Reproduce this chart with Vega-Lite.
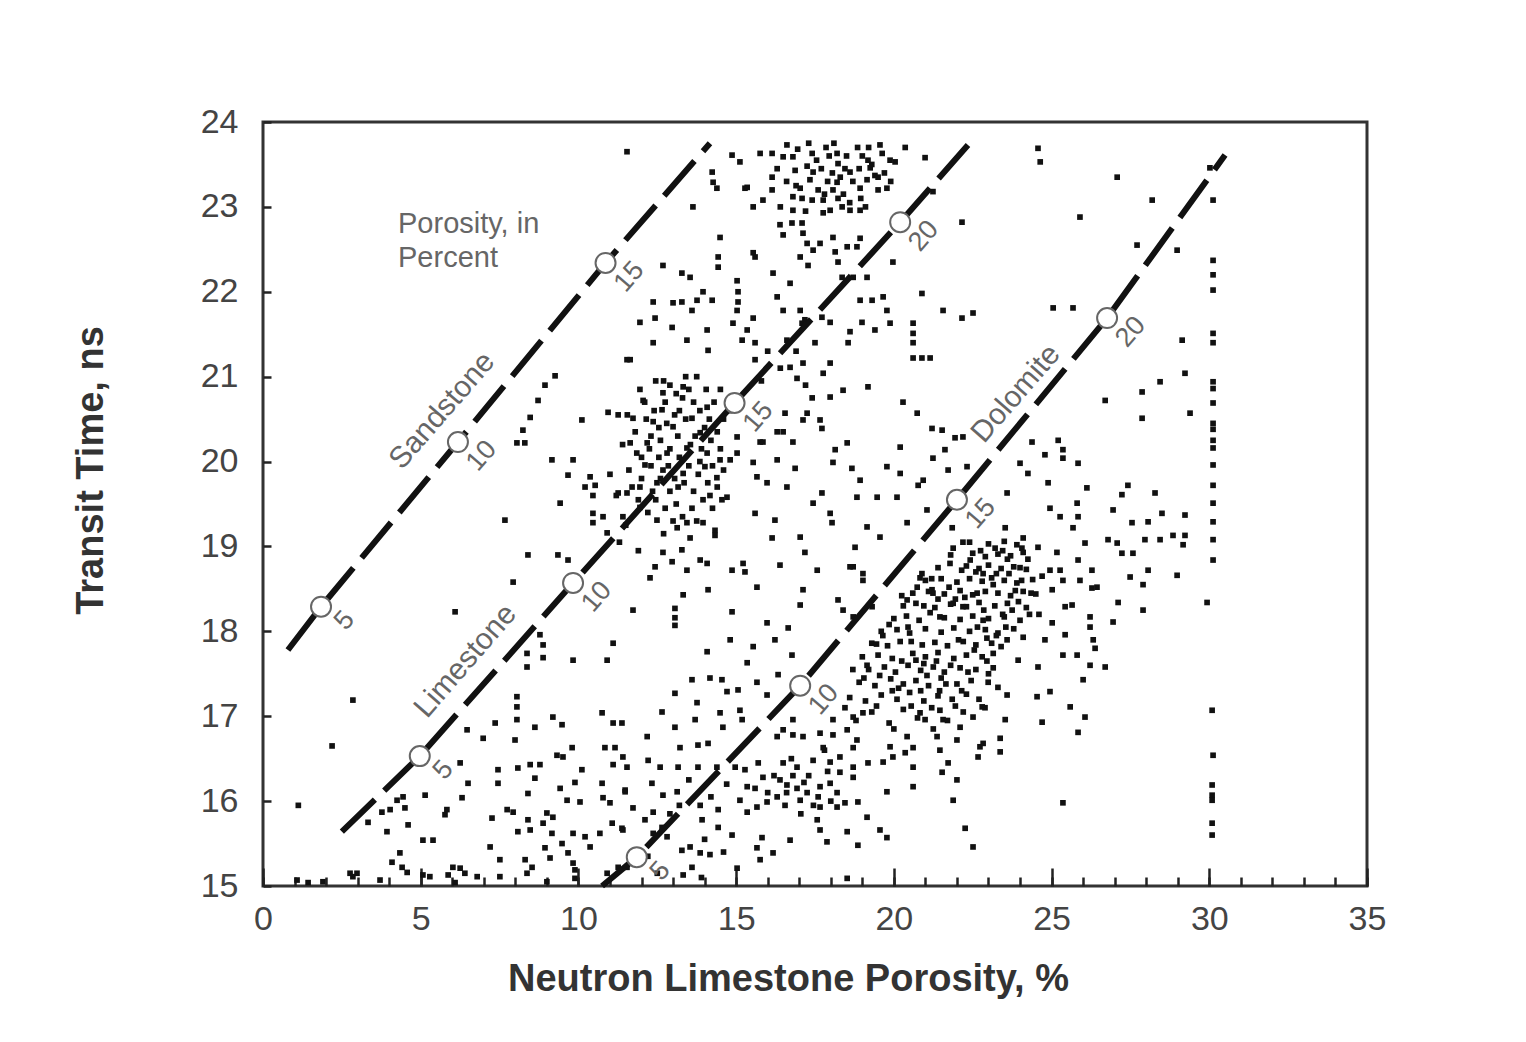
{
  "$schema": "https://vega.github.io/schema/vega-lite/v6.json",
  "width": 1104,
  "height": 764,
  "autosize": {"type": "none"},
  "padding": {"left": 263, "top": 122, "right": 159, "bottom": 156},
  "background": "white",
  "config": {
    "view": {"stroke": "#333", "strokeWidth": 3},
    "font": "Liberation Sans",
    "axis": {"labelFont": "Liberation Sans", "titleFont": "Liberation Sans"}
  },
  "datasets": {
    "samples": [
      {"x":11.54,"y":23.65},{"x":14.24,"y":23.41},{"x":14.27,"y":23.29},{"x":14.39,"y":23.22},{"x":13.63,"y":23.0},{"x":14.87,"y":23.61},{"x":15.12,"y":23.53},{"x":15.28,"y":23.22},{"x":15.76,"y":23.63},{"x":16.14,"y":23.63},{"x":16.14,"y":23.35},{"x":16.14,"y":23.2},{"x":16.49,"y":23.59},{"x":16.61,"y":23.73},{"x":16.8,"y":23.59},{"x":16.87,"y":23.43},{"x":17.41,"y":23.63},{"x":17.44,"y":23.41},{"x":17.34,"y":23.32},{"x":18.2,"y":23.63},{"x":18.23,"y":23.51},{"x":18.61,"y":23.41},{"x":19.18,"y":23.55},{"x":19.56,"y":23.73},{"x":19.63,"y":23.63},{"x":19.88,"y":23.55},{"x":20.04,"y":23.53},{"x":20.36,"y":23.7},{"x":20.99,"y":23.58},{"x":19.25,"y":23.46},{"x":19.15,"y":23.32},{"x":19.5,"y":23.35},{"x":19.5,"y":23.2},{"x":19.78,"y":23.22},{"x":18.93,"y":23.22},{"x":17.03,"y":23.22},{"x":16.8,"y":23.12},{"x":17.09,"y":23.1},{"x":17.41,"y":23.08},{"x":17.76,"y":23.08},{"x":18.07,"y":23.2},{"x":18.2,"y":23.29},{"x":18.23,"y":23.1},{"x":18.36,"y":23.0},{"x":18.61,"y":22.96},{"x":18.93,"y":22.96},{"x":17.98,"y":22.96},{"x":17.76,"y":22.93},{"x":16.8,"y":22.96},{"x":15.54,"y":23.0},{"x":15.85,"y":23.08},{"x":15.35,"y":23.23},{"x":21.24,"y":23.18},{"x":22.16,"y":22.82},{"x":19.97,"y":22.35},{"x":20.89,"y":21.98},{"x":21.56,"y":21.78},{"x":22.16,"y":21.69},{"x":22.51,"y":21.75},{"x":14.49,"y":22.64},{"x":14.43,"y":22.41},{"x":14.43,"y":22.29},{"x":15.54,"y":22.46},{"x":12.68,"y":22.31},{"x":13.28,"y":22.22},{"x":13.54,"y":22.17},{"x":13.95,"y":22.0},{"x":12.37,"y":21.88},{"x":13.0,"y":21.87},{"x":13.28,"y":21.88},{"x":13.76,"y":21.9},{"x":13.6,"y":21.78},{"x":14.24,"y":21.9},{"x":11.95,"y":21.64},{"x":12.43,"y":21.69},{"x":12.97,"y":21.58},{"x":13.44,"y":21.43},{"x":12.37,"y":21.4},{"x":14.08,"y":21.55},{"x":14.11,"y":21.31},{"x":15.03,"y":22.13},{"x":15.06,"y":22.0},{"x":15.06,"y":21.88},{"x":15.03,"y":21.78},{"x":14.9,"y":21.63},{"x":15.54,"y":21.69},{"x":15.35,"y":21.55},{"x":15.19,"y":21.43},{"x":15.6,"y":21.4},{"x":16.17,"y":22.22},{"x":16.3,"y":21.94},{"x":16.71,"y":22.1},{"x":16.49,"y":21.78},{"x":17.03,"y":21.78},{"x":17.09,"y":21.63},{"x":16.61,"y":21.43},{"x":15.6,"y":22.41},{"x":16.39,"y":22.79},{"x":16.77,"y":22.81},{"x":17.09,"y":22.81},{"x":16.49,"y":22.67},{"x":17.12,"y":22.69},{"x":17.25,"y":22.57},{"x":17.66,"y":22.57},{"x":18.07,"y":22.64},{"x":17.44,"y":22.49},{"x":17.03,"y":22.41},{"x":17.28,"y":22.31},{"x":18.14,"y":22.47},{"x":18.23,"y":22.35},{"x":18.52,"y":22.53},{"x":18.83,"y":22.53},{"x":18.93,"y":22.63},{"x":18.36,"y":22.17},{"x":18.71,"y":22.17},{"x":19.15,"y":22.17},{"x":18.93,"y":21.9},{"x":19.31,"y":21.9},{"x":19.66,"y":21.94},{"x":19.78,"y":21.78},{"x":18.99,"y":21.64},{"x":19.4,"y":21.55},{"x":18.61,"y":21.53},{"x":18.55,"y":21.4},{"x":17.98,"y":21.64},{"x":20.61,"y":21.63},{"x":20.61,"y":21.51},{"x":20.61,"y":21.4},{"x":20.61,"y":21.22},{"x":20.89,"y":21.22},{"x":21.15,"y":21.22},{"x":19.88,"y":21.63},{"x":17.18,"y":21.67},{"x":17.72,"y":21.7},{"x":11.54,"y":21.2},
      {"x":18.9,"y":23.45},{"x":19.0,"y":23.6},{"x":19.3,"y":23.5},{"x":19.4,"y":23.37},{"x":18.7,"y":23.3},{"x":17.7,"y":23.45},{"x":17.9,"y":23.3},{"x":16.9,"y":23.25},{"x":17.6,"y":23.2},{"x":18.4,"y":23.15},{"x":18.6,"y":23.05},{"x":19.1,"y":23.0},{"x":19.7,"y":23.4},{"x":16.4,"y":23.0},{"x":17.2,"y":22.95},
      {"x":17.55,"y":23.55},{"x":17.95,"y":23.6},{"x":18.45,"y":23.45},{"x":18.05,"y":23.4},{"x":17.25,"y":23.48},{"x":16.6,"y":23.3},{"x":18.85,"y":23.7},{"x":19.9,"y":23.3},{"x":18.3,"y":23.35},{"x":17.8,"y":23.15},{"x":18.95,"y":23.1},{"x":16.3,"y":23.45},
      {"x":18.1,"y":23.75},{"x":18.5,"y":23.6},{"x":17.85,"y":23.7},{"x":19.2,"y":23.7},{"x":17.3,"y":23.75},{"x":16.95,"y":23.68},
      {"x":24.57,"y":23.69},{"x":24.64,"y":23.53},{"x":27.08,"y":23.35},{"x":28.19,"y":23.08},{"x":25.9,"y":22.88},{"x":27.71,"y":22.55},{"x":28.98,"y":22.49},{"x":30.12,"y":23.08},{"x":30.02,"y":23.46},{"x":30.12,"y":22.37},{"x":30.12,"y":22.2},{"x":30.12,"y":22.02},{"x":25.05,"y":21.81},{"x":25.68,"y":21.81},{"x":29.14,"y":21.43},{"x":30.12,"y":21.51},{"x":30.12,"y":21.4},
      {"x":9.26,"y":21.01},{"x":8.94,"y":20.9},{"x":8.72,"y":20.72},{"x":8.47,"y":20.52},{"x":8.24,"y":20.37},{"x":8.05,"y":20.22},{"x":8.3,"y":20.22},{"x":10.11,"y":20.49},{"x":10.94,"y":20.58},{"x":11.26,"y":20.55},{"x":9.16,"y":20.02},{"x":9.83,"y":20.02},{"x":9.67,"y":19.84},{"x":10.37,"y":19.82},{"x":10.21,"y":19.7},{"x":10.53,"y":19.72},{"x":9.42,"y":19.51},{"x":10.46,"y":19.39},{"x":10.78,"y":19.35},{"x":10.46,"y":19.28},{"x":10.91,"y":19.16},{"x":11.26,"y":19.63},{"x":11.41,"y":19.35},{"x":7.67,"y":19.31},{"x":8.4,"y":18.9},{"x":9.35,"y":18.9},{"x":9.67,"y":18.84},{"x":7.93,"y":18.58},{"x":6.09,"y":18.23},{"x":10.46,"y":19.6},{"x":11.64,"y":21.2},
      {"x":1.12,"y":15.95},{"x":2.85,"y":17.19},{"x":2.19,"y":16.65},
      {"x":11.1,"y":17.86},{"x":10.91,"y":17.66},{"x":9.83,"y":17.66},{"x":8.88,"y":17.84},{"x":8.88,"y":17.69},{"x":8.37,"y":17.74},{"x":8.37,"y":17.58},{"x":8.78,"y":17.96},{"x":8.05,"y":17.23},{"x":8.05,"y":17.11},{"x":8.05,"y":16.96},{"x":7.36,"y":16.92},{"x":8.62,"y":16.87},{"x":9.19,"y":16.99},{"x":9.48,"y":16.9},{"x":10.75,"y":17.04},{"x":11.1,"y":16.92},{"x":11.38,"y":16.92},{"x":6.47,"y":16.84},{"x":6.98,"y":16.74},{"x":7.99,"y":16.72},{"x":9.32,"y":16.54},{"x":9.51,"y":16.52},{"x":9.8,"y":16.63},{"x":10.84,"y":16.63},{"x":11.16,"y":16.63},{"x":11.1,"y":16.43},{"x":6.25,"y":16.45},{"x":6.5,"y":16.21},{"x":7.45,"y":16.37},{"x":7.45,"y":16.21},{"x":8.08,"y":16.39},{"x":8.47,"y":16.43},{"x":8.78,"y":16.43},{"x":8.62,"y":16.27},{"x":10.11,"y":16.37},{"x":9.89,"y":16.22},{"x":9.42,"y":16.15},{"x":10.75,"y":16.21},{"x":11.48,"y":16.13},{"x":8.4,"y":16.09},{"x":9.64,"y":16.01},{"x":10.05,"y":15.99},{"x":10.78,"y":16.04},{"x":11.0,"y":15.98},{"x":5.14,"y":16.07},{"x":6.31,"y":16.04},{"x":5.83,"y":15.9},{"x":5.77,"y":15.84},{"x":4.44,"y":16.05},{"x":4.5,"y":15.92},{"x":4.25,"y":16.01},{"x":4.03,"y":15.9},{"x":3.77,"y":15.87},{"x":3.33,"y":15.75},{"x":3.93,"y":15.64},{"x":4.6,"y":15.72},{"x":5.07,"y":15.54},{"x":5.39,"y":15.54},{"x":7.74,"y":15.9},{"x":7.93,"y":15.87},{"x":7.26,"y":15.8},{"x":7.2,"y":15.46},{"x":8.08,"y":15.64},{"x":8.47,"y":15.66},{"x":8.4,"y":15.78},{"x":8.88,"y":15.74},{"x":9.0,"y":15.86},{"x":9.19,"y":15.81},{"x":9.16,"y":15.62},{"x":9.83,"y":15.62},{"x":10.21,"y":15.58},{"x":10.37,"y":15.46},{"x":10.68,"y":15.62},{"x":11.07,"y":15.74},{"x":11.38,"y":15.68},{"x":8.94,"y":15.45},{"x":9.48,"y":15.5},{"x":9.67,"y":15.39},{"x":9.1,"y":15.33},{"x":9.83,"y":15.27},{"x":4.34,"y":15.39},{"x":4.41,"y":15.22},{"x":4.09,"y":15.28},{"x":4.57,"y":15.16},{"x":7.51,"y":15.31},{"x":8.31,"y":15.31},{"x":8.53,"y":15.22},{"x":8.37,"y":15.15},{"x":6.02,"y":15.22},{"x":6.25,"y":15.21},{"x":5.87,"y":15.13},{"x":6.4,"y":15.15},{"x":5.07,"y":15.13},{"x":5.29,"y":15.11},{"x":2.76,"y":15.15},{"x":2.98,"y":15.15},{"x":2.85,"y":15.11},{"x":6.79,"y":15.11},{"x":7.51,"y":15.11},{"x":9.89,"y":15.19},{"x":9.89,"y":15.09},{"x":10.91,"y":15.15},{"x":11.26,"y":15.22},{"x":11.54,"y":15.22},{"x":1.08,"y":15.07},{"x":1.43,"y":15.04},{"x":1.9,"y":15.05},{"x":3.71,"y":15.07},{"x":6.09,"y":15.04},{"x":9.0,"y":15.05},
      {"x":13.06,"y":18.07},{"x":15.98,"y":18.1},{"x":16.65,"y":18.04},{"x":14.81,"y":17.9},{"x":15.54,"y":17.82},{"x":16.23,"y":17.9},{"x":14.08,"y":17.76},{"x":16.77,"y":17.72},{"x":15.35,"y":17.63},{"x":13.6,"y":17.43},{"x":14.17,"y":17.45},{"x":14.55,"y":17.43},{"x":15.66,"y":17.4},{"x":16.33,"y":17.49},{"x":13.06,"y":17.27},{"x":14.71,"y":17.29},{"x":15.06,"y":17.31},{"x":15.98,"y":17.25},{"x":13.76,"y":17.16},{"x":12.65,"y":17.05},{"x":14.49,"y":17.04},{"x":15.12,"y":17.07},{"x":16.8,"y":16.96},{"x":13.06,"y":16.87},{"x":13.7,"y":16.96},{"x":14.58,"y":16.87},{"x":15.19,"y":16.96},{"x":12.18,"y":16.76},{"x":13.79,"y":16.66},{"x":14.11,"y":16.68},{"x":13.22,"y":16.63},{"x":11.41,"y":16.52},{"x":12.59,"y":16.4},{"x":13.16,"y":16.4},{"x":13.79,"y":16.4},{"x":14.39,"y":16.4},{"x":12.21,"y":16.48},{"x":11.54,"y":16.4},{"x":12.33,"y":16.21},{"x":11.48,"y":16.11},{"x":13.13,"y":16.11},{"x":12.68,"y":16.07},{"x":11.73,"y":15.92},{"x":12.37,"y":15.87},{"x":13.86,"y":15.95},{"x":14.43,"y":15.9},{"x":13.92,"y":15.78},{"x":14.43,"y":15.69},{"x":11.41,"y":15.66},{"x":12.11,"y":15.78},{"x":12.65,"y":15.69},{"x":12.37,"y":15.62},{"x":12.81,"y":15.58},{"x":13.28,"y":15.42},{"x":13.54,"y":15.46},{"x":13.86,"y":15.39},{"x":14.17,"y":15.37},{"x":13.6,"y":15.22},{"x":13.32,"y":15.13},{"x":14.87,"y":15.6},{"x":15.03,"y":15.21},{"x":15.66,"y":15.45},{"x":15.76,"y":15.31},{"x":16.17,"y":15.39},{"x":15.82,"y":15.57},{"x":16.71,"y":15.54},{"x":14.97,"y":16.4},{"x":15.28,"y":16.37},{"x":15.35,"y":16.17},{"x":15.12,"y":16.01},{"x":15.35,"y":15.87},{"x":15.66,"y":15.93},{"x":15.98,"y":15.99},{"x":15.85,"y":16.28},{"x":16.39,"y":16.25},{"x":16.61,"y":16.19},{"x":16.93,"y":16.15},{"x":17.25,"y":16.1},{"x":17.03,"y":16.01},{"x":17.66,"y":16.17},{"x":17.98,"y":16.21},{"x":18.2,"y":16.1},{"x":17.66,"y":15.93},{"x":18.2,"y":15.93},{"x":18.45,"y":15.98},{"x":17.57,"y":15.78},{"x":17.66,"y":15.66},{"x":17.88,"y":15.52},{"x":18.52,"y":15.64},{"x":18.86,"y":15.99},{"x":19.15,"y":15.81},{"x":19.56,"y":15.66},{"x":19.78,"y":15.57},{"x":18.86,"y":15.48},{"x":18.52,"y":15.09},{"x":16.49,"y":16.45},{"x":16.93,"y":16.4},{"x":17.44,"y":16.48},{"x":17.98,"y":16.46},{"x":18.29,"y":16.52},{"x":18.71,"y":16.4},{"x":18.71,"y":16.28},{"x":18.29,"y":16.34},{"x":17.12,"y":16.76},{"x":17.66,"y":16.8},{"x":18.07,"y":16.78},{"x":18.52,"y":16.84},{"x":18.83,"y":16.72},{"x":18.71,"y":16.63},{"x":17.76,"y":16.63},{"x":16.49,"y":16.84},{"x":16.8,"y":16.78},{"x":16.3,"y":16.76},{"x":18.07,"y":16.96},{"x":18.71,"y":16.99},{"x":19.02,"y":17.04},{"x":19.18,"y":16.45},{"x":19.66,"y":16.46},{"x":19.97,"y":16.52},{"x":20.36,"y":16.57},{"x":20.61,"y":16.63},{"x":20.42,"y":16.76},{"x":19.88,"y":16.64},{"x":20.61,"y":16.4},{"x":20.61,"y":16.17},{"x":19.78,"y":16.11},{"x":21.46,"y":16.6},{"x":21.53,"y":16.34},{"x":21.72,"y":16.45},{"x":22.0,"y":16.25},{"x":21.88,"y":16.01},{"x":22.26,"y":15.68},{"x":22.51,"y":15.46},{"x":22.67,"y":16.52},{"x":22.73,"y":16.64},{"x":21.37,"y":16.76},{"x":22.0,"y":16.72},{"x":22.1,"y":16.87},{"x":22.51,"y":16.99},{"x":21.56,"y":16.96},{"x":21.46,"y":17.07},{"x":22.8,"y":17.11},{"x":20.83,"y":17.04},{"x":20.99,"y":16.96},
      {"x":16.0,"y":16.1},{"x":16.3,"y":16.05},{"x":16.8,"y":16.3},{"x":17.3,"y":16.3},{"x":17.6,"y":16.05},{"x":16.55,"y":15.95},{"x":17.05,"y":15.85},{"x":17.9,"y":16.35},{"x":14.7,"y":16.2},{"x":14.2,"y":16.05},{"x":13.5,"y":16.25},{"x":12.9,"y":15.85},{"x":13.2,"y":15.95},{"x":14.0,"y":15.55},{"x":14.6,"y":15.4},{"x":12.2,"y":15.35},{"x":12.5,"y":15.15},{"x":13.9,"y":15.1},
      {"x":16.2,"y":16.3},{"x":16.6,"y":16.1},{"x":17.15,"y":16.22},{"x":17.45,"y":15.95},{"x":16.75,"y":16.5},{"x":15.6,"y":16.15},{"x":15.7,"y":16.45},{"x":17.8,"y":16.6},{"x":18.0,"y":16.0},
      {"x":12.68,"y":20.81},{"x":13.32,"y":20.88},{"x":14.08,"y":20.64},{"x":12.05,"y":20.72},{"x":12.65,"y":20.61},{"x":11.73,"y":20.51},{"x":12.37,"y":20.47},{"x":13.0,"y":20.41},{"x":13.6,"y":20.51},{"x":13.86,"y":20.34},{"x":11.64,"y":20.22},{"x":12.18,"y":20.22},{"x":12.81,"y":20.1},{"x":13.44,"y":20.16},{"x":12.11,"y":19.96},{"x":12.68,"y":19.9},{"x":13.32,"y":19.86},{"x":11.95,"y":19.7},{"x":12.49,"y":19.75},{"x":13.16,"y":19.7},{"x":14.08,"y":20.1},{"x":14.49,"y":20.02},{"x":14.01,"y":19.94},{"x":14.39,"y":19.81},{"x":14.81,"y":20.02},{"x":14.17,"y":19.6},{"x":14.71,"y":19.58},{"x":15.03,"y":20.1},{"x":15.54,"y":19.99},{"x":16.3,"y":20.02},{"x":15.66,"y":19.82},{"x":15.98,"y":19.75},{"x":16.61,"y":19.7},{"x":16.87,"y":19.92},{"x":15.03,"y":20.29},{"x":15.85,"y":20.23},{"x":16.49,"y":20.35},{"x":16.8,"y":20.23},{"x":16.55,"y":20.57},{"x":17.25,"y":20.57},{"x":17.66,"y":20.49},{"x":17.12,"y":20.49},{"x":17.72,"y":20.39},{"x":17.41,"y":20.75},{"x":17.98,"y":20.76},{"x":18.39,"y":20.84},{"x":19.18,"y":20.88},{"x":16.93,"y":20.98},{"x":17.76,"y":21.04},{"x":17.98,"y":21.16},{"x":17.12,"y":21.16},{"x":16.71,"y":21.11},{"x":15.76,"y":20.23},{"x":16.3,"y":20.35},{"x":18.14,"y":20.14},{"x":18.07,"y":19.99},{"x":18.52,"y":20.22},{"x":17.72,"y":19.63},{"x":17.44,"y":19.51},{"x":17.98,"y":19.39},{"x":18.04,"y":19.28},{"x":18.67,"y":19.92},{"x":18.93,"y":19.78},{"x":18.83,"y":19.58},{"x":19.47,"y":19.58},{"x":20.1,"y":19.58},{"x":19.15,"y":19.23},{"x":19.56,"y":19.11},{"x":18.77,"y":18.99},{"x":18.71,"y":18.76},{"x":19.02,"y":18.68},{"x":19.78,"y":19.94},{"x":20.2,"y":19.86},{"x":20.2,"y":20.17},{"x":20.74,"y":20.57},{"x":20.29,"y":20.7},{"x":21.21,"y":20.39},{"x":21.53,"y":20.37},{"x":21.94,"y":20.28},{"x":22.19,"y":20.29},{"x":21.62,"y":20.14},{"x":21.24,"y":20.04},{"x":21.72,"y":19.9},{"x":22.32,"y":19.94},{"x":20.93,"y":19.78},{"x":20.77,"y":19.72},{"x":21.05,"y":19.43},{"x":20.42,"y":19.28},{"x":21.85,"y":19.22},{"x":22.19,"y":19.05},{"x":21.88,"y":18.98},{"x":20.83,"y":18.63},{"x":21.21,"y":18.49},
      {"x":11.54,"y":19.63},{"x":11.95,"y":19.46},{"x":12.49,"y":19.31},{"x":13.13,"y":19.22},{"x":13.44,"y":19.28},{"x":13.95,"y":19.28},{"x":14.33,"y":19.19},{"x":14.33,"y":19.13},{"x":13.54,"y":19.1},{"x":12.68,"y":18.93},{"x":13.28,"y":18.96},{"x":12.97,"y":18.82},{"x":12.43,"y":18.76},{"x":12.27,"y":18.63},{"x":13.44,"y":18.72},{"x":13.86,"y":18.84},{"x":14.08,"y":18.8},{"x":14.11,"y":18.49},{"x":13.32,"y":18.43},{"x":11.73,"y":18.25},{"x":13.06,"y":18.27},{"x":13.06,"y":18.16},{"x":14.87,"y":18.23},{"x":15.6,"y":19.39},{"x":16.23,"y":19.31},{"x":16.14,"y":19.1},{"x":17.03,"y":19.11},{"x":17.18,"y":18.93},{"x":14.87,"y":18.72},{"x":15.22,"y":18.8},{"x":15.28,"y":18.7},{"x":16.39,"y":18.78},{"x":17.57,"y":18.72},{"x":15.66,"y":18.52},{"x":17.12,"y":18.49},{"x":17.03,"y":18.31},{"x":18.23,"y":18.37},{"x":18.39,"y":18.25},{"x":18.61,"y":18.76},{"x":19.02,"y":18.6},{"x":19.31,"y":18.29},{"x":18.71,"y":18.17},{"x":20.74,"y":18.52},{"x":20.89,"y":18.68},{"x":20.42,"y":18.37},{"x":21.24,"y":18.45},{"x":21.88,"y":18.33},{"x":22.19,"y":18.29},{"x":21.78,"y":18.8},{"x":22.42,"y":18.84},{"x":21.46,"y":18.17},{"x":22.83,"y":18.68},{"x":22.64,"y":18.45},{"x":22.83,"y":18.13},
      {"x":28.44,"y":20.94},{"x":29.23,"y":21.04},{"x":27.87,"y":20.82},{"x":26.7,"y":20.72},{"x":27.87,"y":20.51},{"x":29.39,"y":20.57},{"x":30.12,"y":20.94},{"x":30.12,"y":20.86},{"x":30.12,"y":20.69},{"x":30.12,"y":20.45},{"x":30.12,"y":20.38},{"x":30.12,"y":20.25},{"x":30.12,"y":20.16},{"x":30.12,"y":19.96},{"x":30.12,"y":19.72},{"x":30.12,"y":19.51},{"x":30.12,"y":19.29},{"x":30.12,"y":19.08},{"x":30.12,"y":18.84},{"x":24.38,"y":20.23},{"x":25.21,"y":20.25},{"x":25.36,"y":20.14},{"x":24.79,"y":20.08},{"x":25.36,"y":20.04},{"x":25.84,"y":19.98},{"x":24.0,"y":19.98},{"x":24.25,"y":19.86},{"x":23.59,"y":19.63},{"x":24.89,"y":19.75},{"x":26.12,"y":19.69},{"x":27.42,"y":19.72},{"x":27.23,"y":19.61},{"x":28.28,"y":19.63},{"x":25.81,"y":19.51},{"x":24.95,"y":19.45},{"x":25.27,"y":19.35},{"x":25.84,"y":19.35},{"x":25.68,"y":19.22},{"x":26.95,"y":19.43},{"x":27.55,"y":19.28},{"x":28.06,"y":19.29},{"x":28.5,"y":19.39},{"x":29.23,"y":19.37},{"x":23.53,"y":19.22},{"x":24.1,"y":19.1},{"x":24.57,"y":18.99},{"x":24.06,"y":18.98},{"x":23.21,"y":18.98},{"x":25.17,"y":18.93},{"x":26.06,"y":19.04},{"x":26.79,"y":19.08},{"x":27.08,"y":19.04},{"x":27.96,"y":19.08},{"x":28.44,"y":19.08},{"x":28.85,"y":19.13},{"x":29.23,"y":19.13},{"x":29.17,"y":19.02},{"x":27.23,"y":18.92},{"x":27.58,"y":18.92},{"x":25.84,"y":18.84},{"x":26.28,"y":18.72},{"x":27.49,"y":18.64},{"x":28.06,"y":18.72},{"x":28.98,"y":18.66},{"x":27.9,"y":18.55},{"x":26.28,"y":18.51},{"x":26.44,"y":18.52},{"x":27.11,"y":18.34},{"x":27.9,"y":18.25},{"x":29.93,"y":18.34},{"x":26.22,"y":18.17},{"x":26.95,"y":18.11},{"x":25.43,"y":18.29},{"x":25.65,"y":18.31},{"x":25.02,"y":18.49},{"x":25.9,"y":18.6},{"x":25.27,"y":18.72},{"x":25.36,"y":18.6},{"x":24.95,"y":18.72},{"x":25.02,"y":18.1},{"x":26.22,"y":18.05},
      {"x":23.59,"y":17.9},{"x":24.1,"y":17.93},{"x":24.79,"y":17.9},{"x":25.43,"y":17.96},{"x":26.32,"y":17.9},{"x":26.38,"y":17.8},{"x":25.36,"y":17.72},{"x":25.81,"y":17.72},{"x":26.22,"y":17.6},{"x":26.7,"y":17.58},{"x":24.57,"y":17.58},{"x":23.94,"y":17.66},{"x":23.15,"y":17.74},{"x":23.15,"y":17.57},{"x":22.99,"y":17.4},{"x":23.3,"y":17.34},{"x":23.59,"y":17.25},{"x":26.0,"y":17.43},{"x":24.54,"y":17.23},{"x":24.95,"y":17.29},{"x":22.89,"y":17.1},{"x":25.59,"y":17.11},{"x":23.53,"y":16.96},{"x":24.7,"y":16.93},{"x":26.06,"y":16.99},{"x":25.84,"y":16.81},{"x":22.83,"y":16.68},{"x":23.37,"y":16.74},{"x":23.37,"y":16.58},{"x":30.09,"y":17.07},{"x":30.12,"y":16.54},{"x":30.09,"y":16.19},{"x":30.09,"y":16.07},{"x":30.09,"y":16.01},{"x":30.09,"y":15.74},{"x":30.09,"y":15.6},{"x":25.36,"y":15.98},
      {"x":18.8,"y":16.95},{"x":19.3,"y":17.05},{"x":19.85,"y":16.92},{"x":20.3,"y":17.08},{"x":20.75,"y":16.98},{"x":21.2,"y":17.1},{"x":21.7,"y":16.95},{"x":22.2,"y":17.05},
      {"x":18.6,"y":17.22},{"x":19.1,"y":17.18},{"x":19.6,"y":17.25},{"x":20.1,"y":17.2},{"x":20.5,"y":17.28},{"x":20.95,"y":17.18},{"x":21.4,"y":17.24},{"x":21.85,"y":17.2},{"x":22.3,"y":17.26},{"x":22.7,"y":17.2},
      {"x":18.9,"y":17.4},{"x":19.4,"y":17.36},{"x":19.9,"y":17.44},{"x":20.3,"y":17.38},{"x":20.7,"y":17.42},{"x":21.1,"y":17.36},{"x":21.5,"y":17.45},{"x":22.0,"y":17.38},{"x":22.45,"y":17.42},
      {"x":19.2,"y":17.55},{"x":19.7,"y":17.58},{"x":20.05,"y":17.52},{"x":20.45,"y":17.6},{"x":20.85,"y":17.54},{"x":21.25,"y":17.58},{"x":21.6,"y":17.52},{"x":22.1,"y":17.57},{"x":22.6,"y":17.55},{"x":23.0,"y":17.5},
      {"x":19.0,"y":17.7},{"x":19.5,"y":17.72},{"x":19.95,"y":17.68},{"x":20.6,"y":17.74},{"x":21.0,"y":17.7},{"x":21.4,"y":17.75},{"x":21.9,"y":17.68},{"x":22.3,"y":17.72},{"x":22.8,"y":17.7},
      {"x":19.3,"y":17.86},{"x":19.8,"y":17.83},{"x":20.2,"y":17.88},{"x":20.9,"y":17.84},{"x":21.3,"y":17.87},{"x":21.7,"y":17.83},{"x":22.2,"y":17.88},{"x":22.6,"y":17.84},{"x":23.1,"y":17.86},{"x":23.4,"y":17.82},
      {"x":19.6,"y":18.0},{"x":20.1,"y":18.02},{"x":20.5,"y":17.98},{"x":21.0,"y":18.03},{"x":21.5,"y":17.99},{"x":21.9,"y":18.04},{"x":22.4,"y":18.0},{"x":22.9,"y":18.02},{"x":23.3,"y":17.98},{"x":23.8,"y":18.03},
      {"x":20.0,"y":18.15},{"x":20.4,"y":18.18},{"x":20.8,"y":18.13},{"x":21.6,"y":18.16},{"x":22.1,"y":18.14},{"x":22.5,"y":18.18},{"x":23.0,"y":18.15},{"x":23.5,"y":18.17},{"x":24.0,"y":18.13},
      {"x":20.3,"y":18.3},{"x":20.7,"y":18.33},{"x":21.3,"y":18.28},{"x":21.8,"y":18.32},{"x":22.3,"y":18.29},{"x":22.7,"y":18.34},{"x":23.2,"y":18.3},{"x":23.6,"y":18.33},{"x":24.2,"y":18.28},
      {"x":20.6,"y":18.45},{"x":21.1,"y":18.47},{"x":21.6,"y":18.44},{"x":22.1,"y":18.48},{"x":22.5,"y":18.43},{"x":22.9,"y":18.47},{"x":23.3,"y":18.45},{"x":23.7,"y":18.42},{"x":24.1,"y":18.47},{"x":24.5,"y":18.44},
      {"x":21.0,"y":18.6},{"x":21.5,"y":18.62},{"x":22.0,"y":18.58},{"x":22.4,"y":18.62},{"x":22.8,"y":18.59},{"x":23.1,"y":18.63},{"x":23.5,"y":18.6},{"x":23.9,"y":18.57},{"x":24.4,"y":18.61},
      {"x":21.4,"y":18.75},{"x":22.3,"y":18.77},{"x":22.7,"y":18.74},{"x":23.0,"y":18.78},{"x":23.4,"y":18.74},{"x":23.8,"y":18.76},{"x":24.2,"y":18.73},
      {"x":21.8,"y":18.9},{"x":22.5,"y":18.92},{"x":22.9,"y":18.88},{"x":23.3,"y":18.91},{"x":23.7,"y":18.89},{"x":24.1,"y":18.93},
      {"x":22.4,"y":19.05},{"x":23.0,"y":19.03},{"x":23.5,"y":19.06},{"x":23.9,"y":19.02},
      {"x":19.15,"y":17.6},{"x":19.65,"y":17.95},{"x":20.15,"y":17.33},{"x":20.55,"y":17.88},{"x":20.95,"y":17.62},{"x":21.15,"y":18.22},{"x":21.45,"y":17.3},{"x":21.75,"y":18.52},{"x":22.05,"y":17.9},{"x":22.25,"y":18.4},{"x":22.65,"y":18.05},{"x":22.85,"y":18.25},{"x":23.15,"y":18.55},{"x":23.45,"y":18.2},{"x":23.65,"y":18.68},{"x":23.95,"y":18.35},{"x":24.25,"y":18.85},{"x":24.35,"y":18.45},{"x":24.6,"y":18.2},{"x":22.95,"y":17.65},{"x":23.25,"y":17.95},{"x":20.0,"y":16.85},{"x":20.55,"y":17.12},{"x":21.95,"y":17.12},{"x":21.25,"y":16.85},{"x":19.45,"y":17.12},{"x":18.7,"y":17.55},{"x":18.45,"y":17.1},
      {"x":19.05,"y":17.45},{"x":19.55,"y":17.48},{"x":20.25,"y":17.65},{"x":20.7,"y":17.66},{"x":21.05,"y":17.48},{"x":21.35,"y":17.65},{"x":21.8,"y":17.6},{"x":22.35,"y":17.52},{"x":22.55,"y":17.78},{"x":22.95,"y":17.92},{"x":23.55,"y":18.05},{"x":23.75,"y":18.25},{"x":24.05,"y":18.6},{"x":23.85,"y":18.48},{"x":23.25,"y":18.68},{"x":22.6,"y":18.7},{"x":22.15,"y":18.72},{"x":21.95,"y":18.38},{"x":21.4,"y":18.38},{"x":21.2,"y":18.62},{"x":20.95,"y":18.3},{"x":20.45,"y":18.05},{"x":20.25,"y":18.42},{"x":19.85,"y":18.08},{"x":19.45,"y":17.85},{"x":19.95,"y":17.3},{"x":20.85,"y":17.3},{"x":21.65,"y":17.38},{"x":22.15,"y":17.3},{"x":23.6,"y":18.85},{"x":24.0,"y":18.75},{"x":23.45,"y":18.95},{"x":22.75,"y":18.95},{"x":24.3,"y":18.2},{"x":24.7,"y":18.65},
      {"x":12.9,"y":20.9},{"x":13.1,"y":20.8},{"x":13.3,"y":20.75},{"x":13.5,"y":20.85},{"x":13.2,"y":20.6},{"x":13.4,"y":20.5},{"x":12.8,"y":20.45},{"x":13.7,"y":20.3},{"x":14.0,"y":20.4},{"x":14.2,"y":20.25},{"x":13.9,"y":20.15},{"x":12.3,"y":20.3},{"x":12.6,"y":20.25},{"x":12.9,"y":20.15},{"x":13.2,"y":20.05},{"x":13.5,"y":19.95},{"x":13.8,"y":19.85},{"x":14.1,"y":19.75},{"x":14.4,"y":19.7},{"x":12.0,"y":20.05},{"x":12.3,"y":19.95},{"x":12.6,"y":19.8},{"x":12.9,"y":19.65},{"x":13.1,"y":19.5},{"x":11.9,"y":19.55},{"x":12.2,"y":19.4},{"x":11.6,"y":19.9},{"x":11.4,"y":20.2},{"x":11.2,"y":19.6},{"x":11.0,"y":19.85},{"x":13.6,"y":19.45},{"x":14.6,"y":20.5},{"x":14.3,"y":20.7},{"x":14.6,"y":19.9},{"x":12.4,"y":20.6},{"x":12.1,"y":20.7},{"x":11.8,"y":20.35},{"x":13.0,"y":19.3},{"x":12.7,"y":19.15},{"x":11.5,"y":19.25},{"x":11.3,"y":19.05},{"x":11.9,"y":18.95},
      {"x":12.45,"y":20.95},{"x":12.75,"y":20.7},{"x":13.05,"y":20.55},{"x":13.65,"y":20.7},{"x":13.85,"y":20.6},{"x":14.15,"y":20.5},{"x":14.4,"y":20.35},{"x":14.5,"y":20.15},{"x":12.25,"y":20.15},{"x":12.55,"y":20.05},{"x":12.85,"y":19.95},{"x":13.35,"y":19.75},{"x":13.65,"y":19.65},{"x":13.95,"y":19.55},{"x":14.25,"y":19.45},{"x":12.0,"y":19.8},{"x":12.35,"y":19.65},{"x":12.75,"y":19.45},{"x":13.3,"y":19.35},{"x":11.7,"y":19.7},{"x":11.85,"y":20.1},{"x":11.55,"y":20.55},{"x":11.95,"y":20.85},{"x":13.75,"y":21.0},{"x":14.5,"y":20.85},{"x":14.8,"y":20.6},
      {"x":12.55,"y":20.4},{"x":13.15,"y":20.3},{"x":13.55,"y":20.2},{"x":13.85,"y":20.0},{"x":14.25,"y":19.95},{"x":13.05,"y":19.8},{"x":12.45,"y":19.55},{"x":13.75,"y":19.3},{"x":14.55,"y":19.55},{"x":12.15,"y":20.5},{"x":12.7,"y":20.95},{"x":13.4,"y":21.0},{"x":14.05,"y":20.85},
      {"x":15.6,"y":21.2},{"x":16.0,"y":21.3},{"x":16.4,"y":21.1},{"x":15.8,"y":20.95},{"x":16.9,"y":21.3},{"x":17.5,"y":21.4},{"x":17.2,"y":20.9}
    ],
    "trends": [
      {"rock": "Sandstone", "x": 0.79, "y": 17.78},
      {"rock": "Sandstone", "x": 1.84, "y": 18.29},
      {"rock": "Sandstone", "x": 6.18, "y": 20.23},
      {"rock": "Sandstone", "x": 10.86, "y": 22.34},
      {"rock": "Sandstone", "x": 14.17, "y": 23.75},
      {"rock": "Limestone", "x": 2.5, "y": 15.64},
      {"rock": "Limestone", "x": 4.97, "y": 16.53},
      {"rock": "Limestone", "x": 9.83, "y": 18.57},
      {"rock": "Limestone", "x": 14.95, "y": 20.69},
      {"rock": "Limestone", "x": 20.2, "y": 22.82},
      {"rock": "Limestone", "x": 22.35, "y": 23.73},
      {"rock": "Dolomite", "x": 10.75, "y": 15.0},
      {"rock": "Dolomite", "x": 11.85, "y": 15.34},
      {"rock": "Dolomite", "x": 17.03, "y": 17.36},
      {"rock": "Dolomite", "x": 22.0, "y": 19.55},
      {"rock": "Dolomite", "x": 26.76, "y": 21.69},
      {"rock": "Dolomite", "x": 30.5, "y": 23.61}
    ],
    "porosityMarks": [
      {"rock": "Sandstone", "pct": "5", "x": 1.84, "y": 18.29},
      {"rock": "Sandstone", "pct": "10", "x": 6.18, "y": 20.23},
      {"rock": "Sandstone", "pct": "15", "x": 10.86, "y": 22.34},
      {"rock": "Limestone", "pct": "5", "x": 4.97, "y": 16.53},
      {"rock": "Limestone", "pct": "10", "x": 9.83, "y": 18.57},
      {"rock": "Limestone", "pct": "15", "x": 14.95, "y": 20.69},
      {"rock": "Limestone", "pct": "20", "x": 20.2, "y": 22.82},
      {"rock": "Dolomite", "pct": "5", "x": 11.85, "y": 15.34},
      {"rock": "Dolomite", "pct": "10", "x": 17.03, "y": 17.36},
      {"rock": "Dolomite", "pct": "15", "x": 22.0, "y": 19.55},
      {"rock": "Dolomite", "pct": "20", "x": 26.76, "y": 21.69}
    ],
    "rockNames": [
      {"name": "Sandstone", "x": 5.68, "y": 20.6},
      {"name": "Limestone", "x": 6.42, "y": 17.65},
      {"name": "Dolomite", "x": 23.87, "y": 20.8}
    ]
  },
  "layer": [
    {
      "data": {"name": "samples"},
      "mark": {"type": "square", "size": 32, "color": "#111", "opacity": 1},
      "encoding": {
        "x": {
          "field": "x", "type": "quantitative",
          "scale": {"domain": [0, 35], "nice": false, "zero": false},
          "axis": {
            "values": [0, 5, 10, 15, 20, 25, 30, 35],
            "title": "Neutron Limestone Porosity, %",
            "grid": false, "domain": false,
            "tickSize": -18, "tickWidth": 2.5, "tickColor": "#222",
            "labelPadding": 34, "labelFontSize": 34, "labelColor": "#444",
            "labelFlush": false, "labelOverlap": false,
            "titleFontSize": 38, "titleFontWeight": "bold", "titleColor": "#333",
            "titlePadding": 24, "titleX": 525
          }
        },
        "y": {
          "field": "y", "type": "quantitative",
          "scale": {"domain": [15, 24], "nice": false, "zero": false},
          "axis": {
            "values": [15, 16, 17, 18, 19, 20, 21, 22, 23, 24],
            "title": "Transit Time, ns",
            "grid": false, "domain": false,
            "tickSize": -8, "tickWidth": 2.5, "tickColor": "#222",
            "labelPadding": 33, "labelFontSize": 34, "labelColor": "#444",
            "labelFlush": false, "labelOverlap": false,
            "titleFontSize": 38, "titleFontWeight": "bold", "titleColor": "#333",
            "titlePadding": 90, "titleY": 348
          }
        }
      }
    },
    {
      "data": {"name": "trends"},
      "mark": {"type": "line", "strokeWidth": 6, "strokeDash": [46, 13], "strokeCap": "butt", "strokeJoin": "round", "color": "#111"},
      "encoding": {
        "x": {
          "field": "x", "type": "quantitative",
          "axis": {
            "orient": "bottom",
            "values": [0,1,2,3,4,5,6,7,8,9,10,11,12,13,14,15,16,17,18,19,20,21,22,23,24,25,26,27,28,29,30,31,32,33,34,35],
            "labels": false, "domain": false, "grid": false, "title": null,
            "tickSize": -9, "tickWidth": 2.5, "tickColor": "#222"
          }
        },
        "y": {"field": "y", "type": "quantitative", "axis": null},
        "detail": {"field": "rock"}
      }
    },
    {
      "data": {"name": "porosityMarks"},
      "mark": {"type": "point", "shape": "circle", "size": 400, "filled": false, "fill": "white", "fillOpacity": 1, "stroke": "#666", "strokeWidth": 2, "opacity": 1},
      "encoding": {
        "x": {"field": "x", "type": "quantitative", "axis": null},
        "y": {"field": "y", "type": "quantitative", "axis": null}
      }
    },
    {
      "data": {"name": "porosityMarks"},
      "mark": {"type": "text", "angle": 311, "dx": 5, "dy": 27, "fontSize": 27, "color": "#666", "align": "center", "baseline": "middle"},
      "encoding": {
        "x": {"field": "x", "type": "quantitative", "axis": null},
        "y": {"field": "y", "type": "quantitative", "axis": null},
        "text": {"field": "pct"}
      }
    },
    {
      "data": {"name": "rockNames"},
      "mark": {"type": "text", "angle": 311, "fontSize": 30, "color": "#666", "align": "center", "baseline": "middle"},
      "encoding": {
        "x": {"field": "x", "type": "quantitative", "axis": null},
        "y": {"field": "y", "type": "quantitative", "axis": null},
        "text": {"field": "name"}
      }
    },
    {
      "data": {"values": [{"note": "Porosity, in\nPercent", "x": 4.28, "y": 22.96}]},
      "mark": {"type": "text", "lineBreak": "\n", "lineHeight": 34, "fontSize": 29, "color": "#666", "align": "left", "baseline": "top"},
      "encoding": {
        "x": {"field": "x", "type": "quantitative", "axis": null},
        "y": {"field": "y", "type": "quantitative", "axis": null},
        "text": {"field": "note"}
      }
    }
  ],
  "resolve": {"axis": {"x": "independent", "y": "independent"}}
}
